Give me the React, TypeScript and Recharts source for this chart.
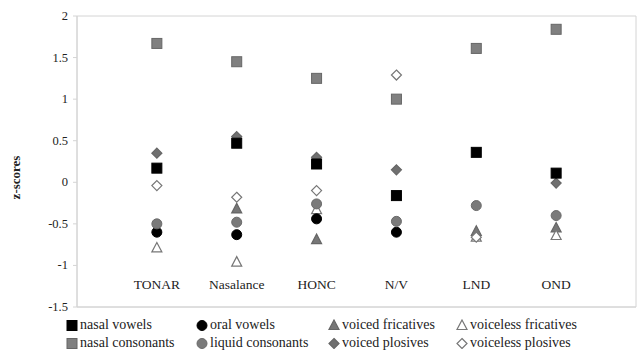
import React from 'react';
import { ScatterChart, Scatter, XAxis, YAxis, ReferenceArea } from 'recharts';

const categories = ['TONAR', 'Nasalance', 'HONC', 'N/V', 'LND', 'OND'];

// z-scores per measure (null = not visible)
const nasalVowels = [0.17, 0.47, 0.22, -0.16, 0.36, 0.11];
const oralVowels = [-0.6, -0.63, -0.44, -0.6, null, null];
const voicedFricatives = [null, -0.32, -0.69, null, -0.59, -0.55];
const voicelessFricatives = [-0.79, -0.96, -0.33, null, -0.66, -0.64];
const nasalConsonants = [1.67, 1.45, 1.25, 1.0, 1.61, 1.84];
const liquidConsonants = [-0.5, -0.48, -0.26, -0.47, -0.28, -0.4];
const voicedPlosives = [0.35, 0.55, 0.3, 0.15, null, -0.01];
const voicelessPlosives = [-0.04, -0.18, -0.1, 1.29, -0.66, null];

const yTicks = [-1.5, -1, -0.5, 0, 0.5, 1, 1.5, 2];

type Kind = 'square' | 'circle' | 'triangle' | 'diamond';

interface SeriesDef {
  name: string;
  values: (number | null)[];
  kind: Kind;
  fill: string;
  stroke: string;
}

const series: SeriesDef[] = [
  { name: 'nasal vowels', values: nasalVowels, kind: 'square', fill: '#000', stroke: '#000' },
  { name: 'oral vowels', values: oralVowels, kind: 'circle', fill: '#000', stroke: '#000' },
  { name: 'voiced fricatives', values: voicedFricatives, kind: 'triangle', fill: '#777', stroke: '#666' },
  { name: 'voiceless fricatives', values: voicelessFricatives, kind: 'triangle', fill: '#fff', stroke: '#777' },
  { name: 'nasal consonants', values: nasalConsonants, kind: 'square', fill: '#808080', stroke: '#666' },
  { name: 'liquid consonants', values: liquidConsonants, kind: 'circle', fill: '#7a7a7a', stroke: '#6a6a6a' },
  { name: 'voiced plosives', values: voicedPlosives, kind: 'diamond', fill: '#707070', stroke: '#666' },
  { name: 'voiceless plosives', values: voicelessPlosives, kind: 'diamond', fill: '#fff', stroke: '#777' },
];

// draw order: plosive diamonds sit under the squares
const drawOrder = [6, 2, 3, 0, 1, 5, 4, 7];

const FONT = 'Liberation Serif';

const Marker = ({ kind, fill, stroke, cx, cy }: { kind: Kind; fill: string; stroke: string; cx: number; cy: number }) => {
  if (cx == null || cy == null) return null;
  if (kind === 'square') {
    return <rect x={cx - 5} y={cy - 5} width={10} height={10} fill={fill} stroke={stroke} strokeWidth={1} />;
  }
  if (kind === 'circle') {
    return <circle cx={cx} cy={cy} r={5} fill={fill} stroke={stroke} strokeWidth={1} />;
  }
  if (kind === 'triangle') {
    return (
      <polygon
        points={`${cx},${cy - 5.5} ${cx + 5},${cy + 4} ${cx - 5},${cy + 4}`}
        fill={fill} stroke={stroke} strokeWidth={1.2}
      />
    );
  }
  return (
    <polygon
      points={`${cx},${cy - 5} ${cx + 5},${cy} ${cx},${cy + 5} ${cx - 5},${cy}`}
      fill={fill} stroke={stroke} strokeWidth={1.2}
    />
  );
};

const CategoryTick = ({ x, y, payload }: any) => (
  <text x={x} y={y - 18} textAnchor="middle" style={{ fontFamily: FONT, fontSize: 13.5 }} fill="#222">
    {categories[payload.value - 1]}
  </text>
);

const ValueTick = ({ x, y, payload }: any) => (
  <text x={x} y={y} dy={4} textAnchor="end" style={{ fontFamily: FONT, fontSize: 12.5 }} fill="#222">
    {payload.value}
  </text>
);

const YLabel = ({ viewBox }: any) => {
  const cx = 15;
  const cy = (viewBox?.y ?? 16) + (viewBox?.height ?? 291) / 2 + 16;
  return (
    <text
      x={cx} y={cy} transform={`rotate(-90, ${cx}, ${cy})`}
      textAnchor="middle" dominantBaseline="central"
      style={{ fontFamily: FONT, fontSize: 13, fontWeight: 'bold' }} fill="#222"
    >
      z-scores
    </text>
  );
};

const LegendIcon = ({ s }: { s: SeriesDef }) => (
  <svg width={12} height={12} style={{ display: 'block' }}>
    <Marker kind={s.kind} fill={s.fill} stroke={s.stroke} cx={6} cy={6.5} />
  </svg>
);

const legendCols = [66, 196, 328, 456];

export default function App() {
  return (
    <div style={{ position: 'absolute', left: 0, top: 0, width: 640, height: 358, background: '#fff' }}>
      <ScatterChart width={640} height={358} margin={{ top: 16, right: 4, bottom: 21, left: 0 }}>
        <XAxis
          type="number"
          dataKey="x"
          domain={[0, 7]}
          ticks={[1, 2, 3, 4, 5, 6]}
          tick={<CategoryTick />}
          tickLine={false}
          tickSize={0}
          tickMargin={0}
          height={30}
          axisLine={{ stroke: '#d4d4d4' }}
          allowDataOverflow
        />
        <YAxis
          type="number"
          dataKey="y"
          domain={[-1.5, 2]}
          ticks={yTicks}
          width={77}
          tickSize={4}
          tickMargin={5}
          tickLine={{ stroke: '#d4d4d4' }}
          axisLine={{ stroke: '#d4d4d4' }}
          tick={<ValueTick />}
          label={<YLabel />}
          allowDataOverflow
        />
        <ReferenceArea x1={0} x2={7} y1={-1.5} y2={2} fill="none" stroke="#d4d4d4" strokeWidth={1} />
        {drawOrder.map((idx) => {
          const s = series[idx];
          const data = s.values
            .map((v, i) => ({ x: i + 1, y: v }))
            .filter((d) => d.y != null);
          return (
            <Scatter
              key={s.name}
              name={s.name}
              data={data}
              isAnimationActive={false}
              shape={(p: any) => <Marker kind={s.kind} fill={s.fill} stroke={s.stroke} cx={p.cx} cy={p.cy} />}
            />
          );
        })}
      </ScatterChart>
      <div style={{ position: 'absolute', left: 0, top: 317, width: 640, fontFamily: FONT, fontSize: 14, color: '#222' }}>
        {series.map((s, i) => (
          <div
            key={s.name}
            style={{
              position: 'absolute',
              left: legendCols[i % 4],
              top: Math.floor(i / 4) * 18,
              display: 'flex',
              alignItems: 'center',
              whiteSpace: 'nowrap',
              lineHeight: '16px',
            }}
          >
            <LegendIcon s={s} />
            <span style={{ marginLeft: 2 }}>{s.name}</span>
          </div>
        ))}
      </div>
    </div>
  );
}
